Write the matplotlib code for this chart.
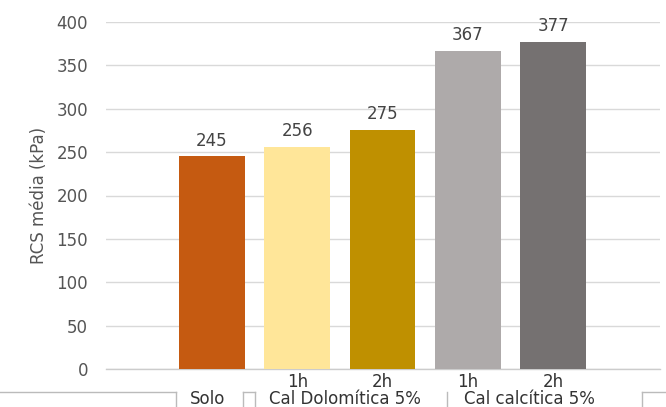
import matplotlib
matplotlib.use('Agg')
import matplotlib.pyplot as plt
from matplotlib.transforms import blended_transform_factory
from matplotlib.lines import Line2D

# Data
bar_labels = ['', '1h', '2h', '1h', '2h']
rcs = [245, 256, 275, 367, 377]
colors = ['#C55A11', '#FFE699', '#BF9000', '#AEAAAA', '#757171']
groups = ['Solo', 'Cal Dolomítica 5%', 'Cal calcítica 5%']
group_pos = [-0.05, 1.56, 3.72]
yticks = [0, 50, 100, 150, 200, 250, 300, 350, 400]

plt.rcParams['font.family'] = ['DejaVu Sans']

fig = plt.figure(figsize=(6.66, 4.07), dpi=100)
ax = fig.add_axes([106 / 666, 1 - 369 / 407, (660 - 106) / 666, (369 - 22) / 407])

x = list(range(len(rcs)))
bars = ax.bar(x, rcs, width=0.77, color=colors, zorder=3)
ax.bar_label(bars, labels=[str(v) for v in rcs], padding=5,
             fontsize=12, color='#444444')

ax.set_xlim(-1.24, 5.25)
ax.set_ylim(0, 400)
ax.set_yticks(yticks)
ax.grid(axis='y', color='#d9d9d9', linewidth=1, zorder=0)
ax.axhline(0, color='#cccccc', linewidth=1, zorder=1, clip_on=False)
ax.set_axisbelow(True)
for s in ax.spines.values():
    s.set_visible(False)

ax.set_xticks(x)
ax.set_xticklabels(bar_labels)
ax.tick_params(axis='x', length=0, pad=3, labelsize=12, labelcolor='#333333')
ax.tick_params(axis='y', length=0, pad=13, labelsize=12, labelcolor='#555555')
ax.set_ylabel('RCS média (kPa)', fontsize=12, color='#555555', labelpad=6)

# second level of the category axis
tr = blended_transform_factory(ax.transData, fig.transFigure)
for name, p in zip(groups, group_pos):
    fig.text(p, 1 - 399 / 407, name, transform=tr, ha='center', va='center',
             fontsize=12, color='#333333')

ly = 1 - 392 / 407
lc = '#bbbbbb'
segs = [
    ([-2.50, -0.42], [ly, ly]), ([-0.42, -0.42], [ly, 0]),
    ([0.36, 0.36], [ly, 0]), ([0.36, 0.50], [ly, ly]), ([0.50, 0.50], [ly, 0]),
    ([2.75, 2.75], [ly, 0]),
    ([5.04, 5.04], [ly, 0]), ([5.04, 5.60], [ly, ly]),
]
for xs, ys in segs:
    fig.add_artist(Line2D(xs, ys, transform=tr, color=lc, linewidth=1))

fig.savefig('out.png', dpi=100)
